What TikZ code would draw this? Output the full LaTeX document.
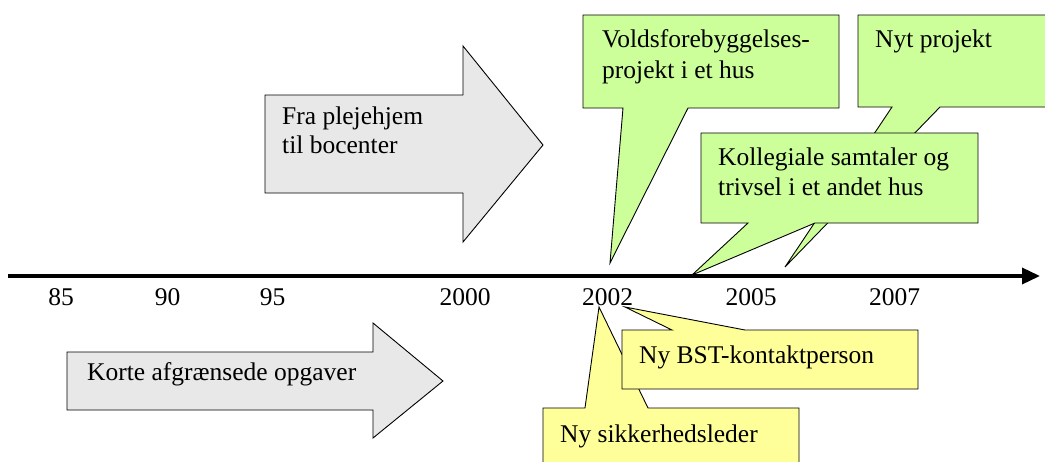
\documentclass[tikz,border=0pt]{standalone}
\usepackage{fontspec}
\setmainfont{Liberation Serif}
\usetikzlibrary{arrows.meta}
\definecolor{calloutgreen}{HTML}{CCFF99}
\definecolor{calloutyellow}{HTML}{FFFF99}
\definecolor{arrowgrey}{HTML}{E8E8E8}
\begin{document}
\begin{tikzpicture}[x=1pt,y=-1pt,
  outlined/.style={draw=black, line width=0.9pt, line join=miter},
  greenshape/.style={outlined, fill=calloutgreen},
  yellowshape/.style={outlined, fill=calloutyellow},
  greyshape/.style={outlined, fill=arrowgrey},
  labeltext/.style={anchor=base west, inner sep=0pt, align=left,
    font=\fontsize{25.5}{30}\selectfont},
  yearlabel/.style={anchor=base, inner sep=0pt, font=\fontsize{25.5}{30}\selectfont},
]
\useasboundingbox (0,0) rectangle (1045,461);

% broad block arrows for the two periods
% (multi-line labels are anchored at the baseline of their last line)
\draw[greyshape] (265,95) -- (463,95) -- (463,46) -- (543,145) -- (463,242)
  -- (463,193) -- (265,193) -- cycle;
\node[labeltext, font=\fontsize{25.5}{29}\selectfont] (fra) at (282,153)
  {Fra plejehjem\\til bocenter};

\draw[greyshape] (67,352) -- (373,352) -- (373,323) -- (443,381) -- (373,438)
  -- (373,410) -- (67,410) -- cycle;
\node[labeltext] (korte) at (87,380) {Korte afgrænsede opgaver};

% time axis
\coordinate (tstart) at (8,276);
\coordinate (tend) at (1040,276);
\draw[line width=3.5pt, -{Triangle[length=18pt,width=16pt]}] (tstart) -- (tend);

\node[yearlabel] (y85)   at (61,305)  {85};
\node[yearlabel] (y90)   at (167.5,305) {90};
\node[yearlabel] (y95)   at (272.5,305) {95};
\node[yearlabel] (y2000) at (465,305) {2000};
\node[yearlabel] (y2002) at (607.5,305) {2002};
\node[yearlabel] (y2005) at (751,305) {2005};
\node[yearlabel] (y2007) at (894.5,305) {2007};

% green callouts above the axis
\coordinate (voldtip) at (610,263);
\draw[greenshape] (583,15) -- (839,15) -- (839,108) -- (688,108) -- (voldtip)
  -- (623,108) -- (583,108) -- cycle;
\node[labeltext, font=\fontsize{25.5}{31}\selectfont] (vold) at (602,78)
  {Voldsforebyggelses-\\projekt i et hus};

\coordinate (nyttip) at (785,267);
\draw[greenshape] (858,15) -- (1050,15) -- (1050,107) -- (940,107) -- (nyttip)
  -- (892,107) -- (858,107) -- cycle;
\node[labeltext] (nyt) at (875,47) {Nyt projekt};

\coordinate (kolltip) at (692,275);
\draw[greenshape] (701,133) -- (978,133) -- (978,223) -- (815,223) -- (kolltip)
  -- (748,223) -- (701,223) -- cycle;
\node[labeltext] (koll) at (718,195) {Kollegiale samtaler og\\trivsel i et andet hus};

% yellow callouts below the axis
\coordinate (sikktip) at (599,307);
\draw[yellowshape] (543,408) -- (585,408) -- (sikktip) -- (648,408) -- (799,408)
  -- (799,470) -- (543,470) -- cycle;
\node[labeltext] (sikk) at (560,442) {Ny sikkerhedsleder};

\coordinate (bsttip) at (625,307);
\draw[yellowshape] (622,330) -- (672,330) -- (bsttip) -- (745,330) -- (918,330)
  -- (918,389) -- (622,389) -- cycle;
\node[labeltext] (bst) at (639,363) {Ny BST-kontaktperson};
\end{tikzpicture}
\end{document}
